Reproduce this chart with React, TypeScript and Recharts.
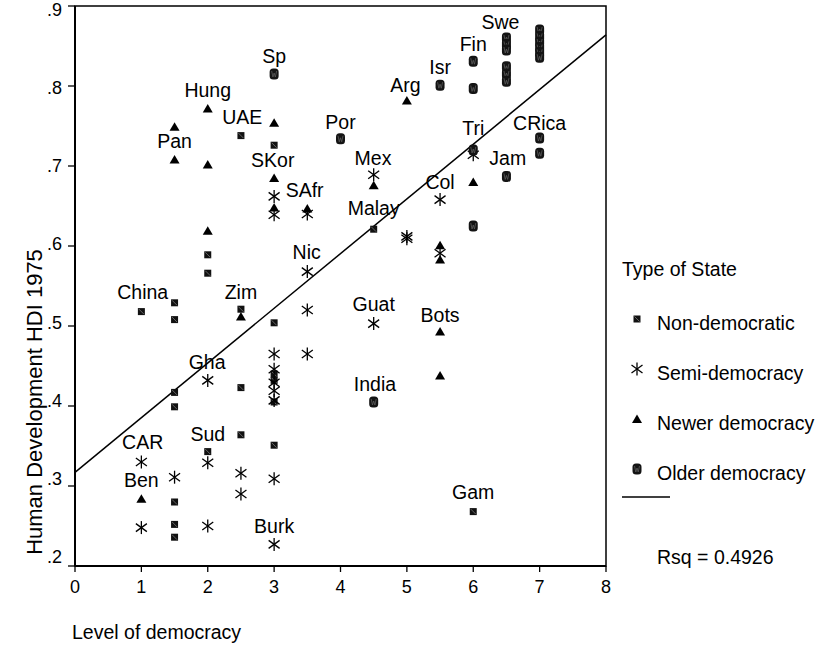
import React from "react";
import {
  ScatterChart,
  Scatter,
  XAxis,
  YAxis,
  ReferenceLine,
  ReferenceArea,
  Legend,
} from "recharts";

const FONT = "'Liberation Sans', Arial, Helvetica, sans-serif";

const xTicks = [0, 1, 2, 3, 4, 5, 6, 7, 8];
const yTicks = [0.2, 0.3, 0.4, 0.5, 0.6, 0.7, 0.8, 0.9];

// [level of democracy, HDI 1975]
const nonDemocratic: [number, number][] = [
  [1, 0.518], [1.5, 0.529], [1.5, 0.508], [1.5, 0.417], [1.5, 0.399],
  [1.5, 0.28], [1.5, 0.252], [1.5, 0.236], [2, 0.589], [2, 0.566],
  [2, 0.343], [2.5, 0.738], [2.5, 0.521], [2.5, 0.423], [2.5, 0.364],
  [3, 0.726], [3, 0.504], [3, 0.44], [3, 0.432], [3, 0.405], [3, 0.351],
  [4.5, 0.621], [6, 0.268],
];

const semiDemocracy: [number, number][] = [
  [1, 0.33], [1, 0.248], [1.5, 0.311], [2, 0.432], [2, 0.329], [2, 0.25],
  [2.5, 0.316], [2.5, 0.29], [3, 0.662], [3, 0.639], [3, 0.465], [3, 0.446],
  [3, 0.429], [3, 0.419], [3, 0.407], [3, 0.309], [3, 0.227], [3.5, 0.64],
  [3.5, 0.568], [3.5, 0.52], [3.5, 0.465], [4.5, 0.689], [4.5, 0.503],
  [5, 0.612], [5, 0.609], [5.5, 0.658], [5.5, 0.591], [6, 0.714],
];

const newerDemocracy: [number, number][] = [
  [1, 0.284], [1.5, 0.749], [1.5, 0.708], [2, 0.772], [2, 0.702], [2, 0.619],
  [2.5, 0.512], [3, 0.754], [3, 0.685], [3, 0.648], [3.5, 0.647],
  [4.5, 0.676], [5, 0.782], [5.5, 0.601], [5.5, 0.583], [5.5, 0.493],
  [5.5, 0.438], [6, 0.68],
];

const olderDemocracy: [number, number][] = [
  [3, 0.815], [4, 0.734], [4.5, 0.405], [5.5, 0.801], [6, 0.831], [6, 0.797],
  [6, 0.72], [6, 0.625], [6.5, 0.86], [6.5, 0.852], [6.5, 0.845],
  [6.5, 0.824], [6.5, 0.815], [6.5, 0.806], [6.5, 0.687], [7, 0.87],
  [7, 0.862], [7, 0.855], [7, 0.848], [7, 0.842], [7, 0.836], [7, 0.735],
  [7, 0.716],
];

const countryLabels: [string, number, number][] = [
  ["Sp", 3, 0.837], ["Hung", 2, 0.795], ["UAE", 2.52, 0.761], ["Pan", 1.5, 0.731],
  ["SKor", 2.98, 0.707], ["SAfr", 3.46, 0.67], ["Por", 4, 0.755], ["Arg", 4.98, 0.801],
  ["Isr", 5.5, 0.824], ["Fin", 6, 0.853], ["Swe", 6.41, 0.88], ["Tri", 6, 0.747],
  ["CRica", 7, 0.754], ["Mex", 4.49, 0.71], ["Jam", 6.52, 0.71], ["Col", 5.5, 0.68],
  ["Malay", 4.5, 0.648], ["Nic", 3.49, 0.592], ["China", 1.02, 0.542], ["Zim", 2.5, 0.542],
  ["Guat", 4.5, 0.528], ["Bots", 5.5, 0.514], ["Gha", 1.99, 0.455], ["India", 4.52, 0.428],
  ["CAR", 1.02, 0.355], ["Sud", 2, 0.365], ["Ben", 1, 0.308], ["Burk", 3, 0.25],
  ["Gam", 6, 0.292],
];

const fitLine = [
  { x: 0, y: 0.317 },
  { x: 8, y: 0.864 },
];
const rSquared = "0.4926";

const toPoints = (arr: [number, number][]) => arr.map(([x, y]) => ({ x, y }));
const labelPoints = countryLabels.map(([name, x, y]) => ({ name, x, y }));

function SquareMark({ cx, cy }: any) {
  return (
    <g>
      <rect x={cx - 3.5} y={cy - 3.5} width={7} height={7} fill="#111" />
      <line x1={cx - 2.5} y1={cy - 2.5} x2={cx + 2.5} y2={cy + 2.5} stroke="#888" strokeWidth={0.7} />
    </g>
  );
}

function StarMark({ cx, cy }: any) {
  return (
    <g stroke="#000" strokeWidth={1.3}>
      <line x1={cx} y1={cy - 6.5} x2={cx} y2={cy + 6.5} />
      <line x1={cx - 5.5} y1={cy - 4} x2={cx + 5.5} y2={cy + 4} />
      <line x1={cx - 5.5} y1={cy + 4} x2={cx + 5.5} y2={cy - 4} />
    </g>
  );
}

function TriangleMark({ cx, cy }: any) {
  return <path d={`M${cx},${cy - 4.5}L${cx + 5},${cy + 4}L${cx - 5},${cy + 4}Z`} fill="#000" />;
}

function OlderMark({ cx, cy }: any) {
  return (
    <g>
      <rect x={cx - 4.5} y={cy - 5.5} width={9} height={11} rx={3.5} fill="#141414" />
      <path
        d={`M${cx - 2.5},${cy - 3}L${cx - 1.2},${cy + 3}L${cx},${cy - 1}L${cx + 1.2},${cy + 3}L${cx + 2.5},${cy - 3}`}
        fill="none"
        stroke="#5a5a5a"
        strokeWidth={0.8}
      />
    </g>
  );
}

function CountryLabel({ cx, cy, payload }: any) {
  return (
    <text x={cx} y={cy} textAnchor="middle" dominantBaseline="central" fontSize={19.5} fontFamily={FONT} fill="#000">
      {payload.name}
    </text>
  );
}

function YTick({ x, y, payload }: any) {
  const v = payload.value as number;
  // labels sit slightly off their ticks in the original (lower at top, higher at bottom)
  const shift = 4 - ((0.9 - v) / 0.7) * 13;
  return (
    <text x={x} y={y + shift} textAnchor="end" dominantBaseline="central" fontSize={18} fontFamily={FONT} fill="#000">
      {v.toFixed(1).replace(/^0/, "")}
    </text>
  );
}

const legendItems = [
  { name: "Non-democratic", Mark: SquareMark },
  { name: "Semi-democracy", Mark: StarMark },
  { name: "Newer democracy", Mark: TriangleMark },
  { name: "Older democracy", Mark: OlderMark },
];

function renderLegend() {
  return (
    <svg width={209} height={330} style={{ fontFamily: FONT }}>
      <text x={8} y={19} fontSize={19.5} dominantBaseline="central">Type of State</text>
      {legendItems.map((item, i) => (
        <g key={item.name}>
          <item.Mark cx={23} cy={69 + i * 50} />
          <text x={43} y={73 + i * 50} fontSize={19.5} dominantBaseline="central">{item.name}</text>
        </g>
      ))}
      <line x1={8} y1={247} x2={56} y2={247} stroke="#000" strokeWidth={1.5} />
      <text x={43} y={307} fontSize={19.5} dominantBaseline="central">Rsq = {rSquared}</text>
    </svg>
  );
}

export default function App() {
  return (
    <div style={{ position: "absolute", left: 0, top: 0, background: "#fff" }}>
      <ScatterChart
        width={823}
        height={645}
        margin={{ top: 6, right: 217, bottom: 49, left: 0 }}
        style={{ fontFamily: FONT }}
      >
        <XAxis
          type="number"
          dataKey="x"
          domain={[0, 8]}
          ticks={xTicks}
          interval={0}
          tickSize={6}
          tickMargin={8}
          height={30}
          axisLine={{ stroke: "#000", strokeWidth: 2 }}
          tickLine={{ stroke: "#000", strokeWidth: 1.3 }}
          tick={{ fill: "#000", fontSize: 18, fontFamily: FONT }}
          label={{
            content: () => (
              <text x={72} y={632} fontSize={19.5} fontFamily={FONT} dominantBaseline="central" fill="#000">
                Level of democracy
              </text>
            ),
          }}
        />
        <YAxis
          type="number"
          dataKey="y"
          domain={[0.2, 0.9]}
          ticks={yTicks}
          interval={0}
          width={75}
          tickSize={7}
          tickMargin={6}
          axisLine={{ stroke: "#000", strokeWidth: 2 }}
          tickLine={{ stroke: "#000", strokeWidth: 1.3 }}
          tick={<YTick />}
          label={{
            content: () => (
              <text
                x={34}
                y={402}
                fontSize={22}
                fontFamily={FONT}
                textAnchor="middle"
                dominantBaseline="central"
                transform="rotate(-90 34 402)"
                fill="#000"
              >
                Human Development HDI 1975
              </text>
            ),
          }}
        />
        <ReferenceArea x1={0} x2={8} y1={0.2} y2={0.9} fill="none" fillOpacity={0} stroke="#000" strokeWidth={1.5} ifOverflow="visible" />
        <ReferenceLine segment={fitLine} stroke="#000" strokeWidth={1.5} ifOverflow="visible" />
        <Scatter name="Non-democratic" data={toPoints(nonDemocratic)} shape={SquareMark} isAnimationActive={false} />
        <Scatter name="Semi-democracy" data={toPoints(semiDemocracy)} shape={StarMark} isAnimationActive={false} />
        <Scatter name="Newer democracy" data={toPoints(newerDemocracy)} shape={TriangleMark} isAnimationActive={false} />
        <Scatter name="Older democracy" data={toPoints(olderDemocracy)} shape={OlderMark} isAnimationActive={false} />
        <Scatter name="labels" data={labelPoints} shape={CountryLabel} legendType="none" isAnimationActive={false} />
        <Legend
          layout="vertical"
          align="center"
          verticalAlign="middle"
          wrapperStyle={{ left: 614, top: 250, width: 209, height: 330 }}
          content={renderLegend}
        />
      </ScatterChart>
    </div>
  );
}
